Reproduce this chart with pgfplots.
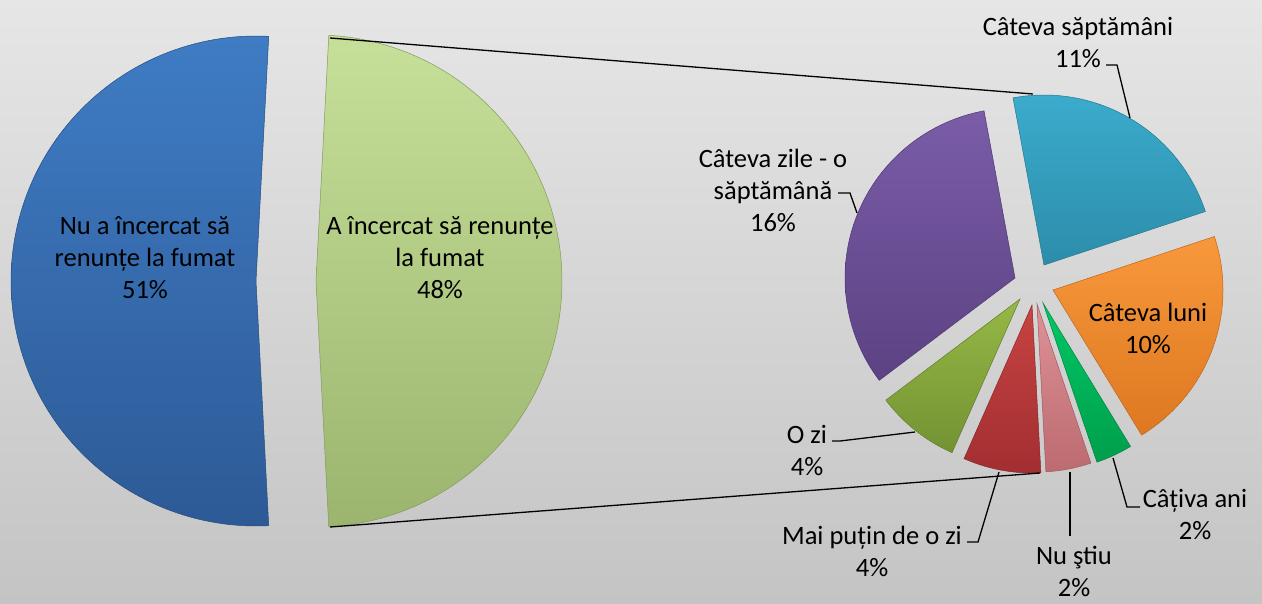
\documentclass[border=0pt]{standalone}
\usepackage{fontspec}
\setmainfont{Carlito}
\usepackage{pgfplots}
\pgfplotsset{compat=1.18}
\definecolor{bgtop}{HTML}{E6E6E6}
\definecolor{bgbot}{HTML}{C4C4C4}
\definecolor{bluet}{HTML}{3F7CC4}\definecolor{blueb}{HTML}{2D5A96}
\definecolor{lgt}{HTML}{C6E09A}\definecolor{lgb}{HTML}{9BB56F}
\definecolor{cyant}{HTML}{3BABCC}\definecolor{cyanb}{HTML}{2C8DAA}
\definecolor{orat}{HTML}{F8983C}\definecolor{orab}{HTML}{DD7820}
\definecolor{grt}{HTML}{00C865}\definecolor{grb}{HTML}{009E4C}
\definecolor{pkt}{HTML}{DE9297}\definecolor{pkb}{HTML}{BC6B70}
\definecolor{rdt}{HTML}{C74442}\definecolor{rdb}{HTML}{A22E31}
\definecolor{olt}{HTML}{96B846}\definecolor{olb}{HTML}{739233}
\definecolor{put}{HTML}{7A5CA8}\definecolor{pub}{HTML}{5C4283}
% cx, cy, r, a1, a2, top colour, bottom colour
\newcommand{\sector}[7]{%
  \addplot[draw=#7!85!black, line width=0.5pt, top color=#6, bottom color=#7,
    domain=#4:#5, samples=120, variable=\t]
    ({#1+#3*cos(\t)},{#2-#3*sin(\t)}) -- (axis cs:#1,#2) -- cycle;
}
\begin{document}
\begin{tikzpicture}
% values (percent of respondents)
\def\vNu{51.5}
\def\vCS{11.0}\def\vCL{10.3}\def\vCA{1.7}\def\vNS{2.1}\def\vMP{3.6}\def\vOZ{3.9}\def\vCZ{15.6}
\pgfmathsetmacro\tot{\vCS+\vCL+\vCA+\vNS+\vMP+\vOZ+\vCZ}
\pgfmathsetmacro\half{180*\tot/(\vNu+\tot)}
\pgfmathsetmacro\hb{360-\half}
\pgfmathsetmacro\sA{100.5}
\pgfmathsetmacro\sB{\sA-360*\vCS/\tot}
\pgfmathsetmacro\sC{\sB-360*\vCL/\tot}
\pgfmathsetmacro\sD{\sC-360*\vCA/\tot}
\pgfmathsetmacro\sE{\sD-360*\vNS/\tot}
\pgfmathsetmacro\sF{\sE-360*\vMP/\tot}
\pgfmathsetmacro\sG{\sF-360*\vOZ/\tot}
\pgfmathsetmacro\sH{\sG-360*\vCZ/\tot}
\begin{axis}[scale only axis, width=1262pt, height=603pt,
  xmin=0, xmax=1262, ymin=0, ymax=603, y dir=reverse,
  hide axis, clip=false]
\fill[top color=bgtop, bottom color=bgbot] (axis cs:0,0) rectangle (axis cs:1262,603);
% first pie
\sector{256}{281}{245}{\half}{\hb}{bluet}{blueb}
\sector{316}{281}{246}{-\half}{\half}{lgt}{lgb}
% second pie
\sector{1044}{265}{170}{\sB}{\sA}{cyant}{cyanb}
\sector{1053}{290}{170}{\sC}{\sB}{orat}{orab}
\sector{1043}{303}{168}{\sD}{\sC}{grt}{grb}
\sector{1037}{304}{168}{\sE}{\sD}{pkt}{pkb}
\sector{1032}{305}{168}{\sF}{\sE}{rdt}{rdb}
\sector{1020}{299}{168}{\sG}{\sF}{olt}{olb}
\sector{1015}{278}{170}{\sH}{\sG}{put}{pub}
% connector lines
\addplot[black, line width=1.3pt] coordinates {(330,38) (1033,94)};
\addplot[black, line width=1.3pt] coordinates {(330,527) (1040,473)};
% leader lines
\addplot[black, line width=1.3pt] coordinates {(1106,65) (1117,65) (1130,118)};
\addplot[black, line width=1.3pt] coordinates {(838,193) (850,193) (857,213)};
\addplot[black, line width=1.3pt] coordinates {(832,441) (840,441) (915,432)};
\addplot[black, line width=1.3pt] coordinates {(967,542) (978,542) (999,472)};
\addplot[black, line width=1.3pt] coordinates {(1070,536) (1070,472)};
\addplot[black, line width=1.3pt] coordinates {(1140,507) (1127,507) (1113,458)};
% labels
\begin{scope}[every node/.style={align=center, font=\fontsize{26.5}{32}\selectfont, inner sep=0pt}]
\node at (axis cs:145,258) {Nu a încercat să\\renunțe la fumat\\51\%};
\node at (axis cs:440,258) {A încercat să renunțe\\la fumat\\48\%};
\node at (axis cs:1078,42) {Câteva săptămâni\\11\%};
\node at (axis cs:773,190) {Câteva zile - o\\săptămână\\16\%};
\node at (axis cs:1148,328) {Câteva luni\\10\%};
\node at (axis cs:807,450) {O zi\\4\%};
\node at (axis cs:872,551) {Mai puțin de o zi\\4\%};
\node at (axis cs:1074,571) {Nu ştiu\\2\%};
\node at (axis cs:1195,514) {Câțiva ani\\2\%};
\end{scope}
\end{axis}
\end{tikzpicture}
\end{document}
